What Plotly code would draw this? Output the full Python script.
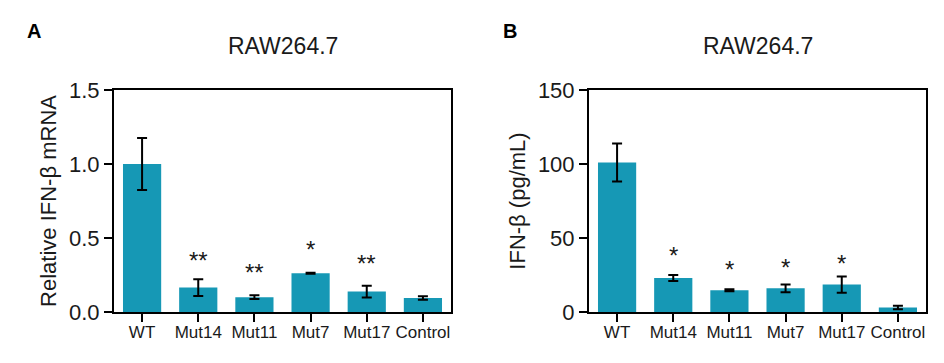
import plotly.graph_objects as go

categories = ["WT", "Mut14", "Mut11", "Mut7", "Mut17", "Control"]

# Panel A: relative IFN-beta mRNA
mrna_values = [1.00, 0.165, 0.100, 0.262, 0.138, 0.094]
mrna_errors = [0.175, 0.057, 0.013, 0.004, 0.040, 0.012]
mrna_stars = ["", "**", "**", "*", "**", ""]
mrna_star_y = [None, 0.35, 0.27, 0.425, 0.33, None]

# Panel B: IFN-beta protein (pg/mL)
prot_values = [101.0, 23.0, 14.7, 16.0, 18.5, 3.0]
prot_errors = [12.8, 2.0, 0.6, 2.6, 5.5, 1.2]
prot_stars = ["", "*", "*", "*", "*", ""]
prot_star_y = [None, 38.5, 29.0, 30.0, 33.0, None]

panel_titles = ["RAW264.7", "RAW264.7"]
y_titles = ["Relative IFN-β mRNA", "IFN-β (pg/mL)"]
panel_letters = ["A", "B"]

BAR = "#1698B5"
FONT = "Arial, Liberation Sans, sans-serif"
TXT = "#1a1a1a"

OFF = 8  # default body margin of the html page
W, H = 944 - 2 * OFF, 363 - 2 * OFF


def px_x(p):
    return (p - OFF) / W


def px_y(p):
    return 1 - (p - OFF) / H


fig = go.Figure()
fig.add_trace(go.Bar(
    x=categories, y=mrna_values, width=0.68, marker=dict(color=BAR, line=dict(width=0)),
    error_y=dict(type="data", array=mrna_errors, color="black", thickness=2, width=5),
    xaxis="x", yaxis="y", showlegend=False))
fig.add_trace(go.Bar(
    x=categories, y=prot_values, width=0.68, marker=dict(color=BAR, line=dict(width=0)),
    error_y=dict(type="data", array=prot_errors, color="black", thickness=2, width=5),
    xaxis="x2", yaxis="y2", showlegend=False))

axis_common = dict(showline=True, linecolor="black", linewidth=2, mirror=True,
                   ticks="outside", ticklen=8, tickwidth=2, tickcolor="black",
                   showgrid=False, zeroline=False, automargin=False)

xa_dom = [px_x(114), px_x(451)]
xb_dom = [px_x(589), px_x(926)]
y_dom = [px_y(312), px_y(90)]

fig.update_layout(
    template="none",
    width=W, height=H, margin=dict(l=0, r=0, t=0, b=0, pad=0),
    paper_bgcolor="white", plot_bgcolor="white",
    font=dict(family=FONT, color=TXT),
    xaxis=dict(domain=xa_dom, anchor="y", range=[-0.5, 5.5], ticklabelstandoff=-4,
               tickfont=dict(size=17), **axis_common),
    yaxis=dict(domain=y_dom, anchor="x", range=[0, 1.5], tickvals=[0, 0.5, 1.0, 1.5],
               tickformat=".1f", tickfont=dict(size=22),
               title=dict(text=y_titles[0], font=dict(size=22), standoff=6), **axis_common),
    xaxis2=dict(domain=xb_dom, anchor="y2", range=[-0.5, 5.5], ticklabelstandoff=-4,
                tickfont=dict(size=17), **axis_common),
    yaxis2=dict(domain=y_dom, anchor="x2", range=[0, 150], tickvals=[0, 50, 100, 150],
                tickfont=dict(size=22),
                title=dict(text=y_titles[1], font=dict(size=22), standoff=6), **axis_common),
)

annotations = []
for i, t in enumerate(panel_titles):
    cx = (xa_dom[0] + xa_dom[1]) / 2 if i == 0 else (xb_dom[0] + xb_dom[1]) / 2
    annotations.append(dict(text=t, x=cx, y=px_y(46), xref="paper", yref="paper",
                            showarrow=False, font=dict(size=23, color=TXT),
                            xanchor="center", yanchor="middle"))
for lx, letter in zip([34, 510], panel_letters):
    annotations.append(dict(text=f"<b>{letter}</b>", x=px_x(lx), y=px_y(31), xref="paper",
                            yref="paper", showarrow=False, font=dict(size=20, color="black"),
                            xanchor="center", yanchor="middle"))
for cat, s, sy in zip(categories, mrna_stars, mrna_star_y):
    if s:
        annotations.append(dict(text=s, x=cat, y=sy, xref="x", yref="y", showarrow=False,
                                font=dict(size=24, color=TXT), yanchor="middle"))
for cat, s, sy in zip(categories, prot_stars, prot_star_y):
    if s:
        annotations.append(dict(text=s, x=cat, y=sy, xref="x2", yref="y2", showarrow=False,
                                font=dict(size=24, color=TXT), yanchor="middle"))
fig.update_layout(annotations=annotations)

fig.write_html("out.html")
